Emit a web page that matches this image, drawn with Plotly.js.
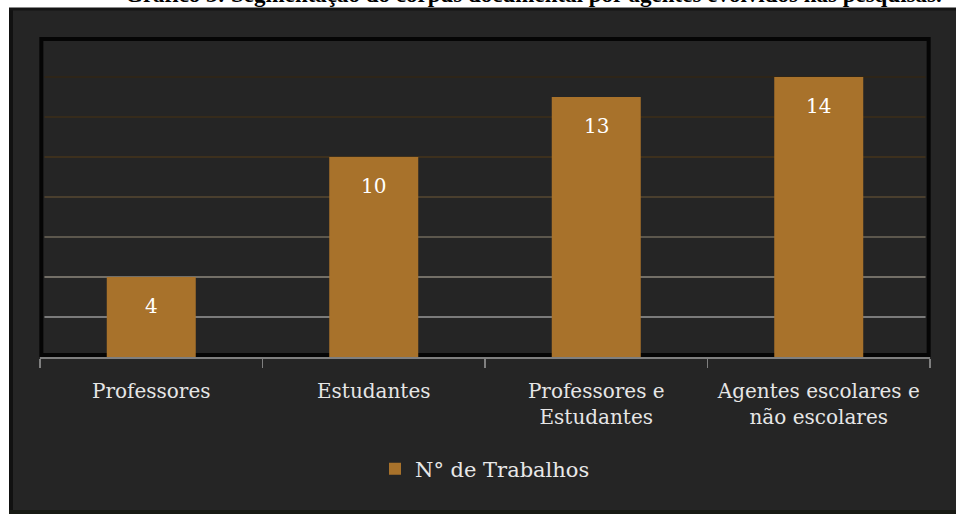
<!DOCTYPE html>
<html>
<head>
<meta charset="utf-8">
<script src="https://cdn.plot.ly/plotly-3.0.1.min.js"></script>
<style>html,body{margin:0;padding:0;background:#fff;}#chart{width:956px;height:514px;}</style>
</head>
<body>
<div id="chart"></div>
<script>
const categories = ["Professores", "Estudantes", "Professores e<br>Estudantes", "Agentes escolares e<br>não escolares"];
const values = [4, 10, 13, 14];
const seriesName = "N° de Trabalhos";
const chartTitle = "Gráfico 3: Segmentação do corpus documental por agentes evolvidos nas pesquisas.";
const gridVals = [2, 4, 6, 8, 10, 12, 14];
const gridColors = ["#7b7b7b", "#736f67", "#5c574d", "#4a3f2e", "#3d301d", "#362b1b", "#2e2518"];

const serif = "DejaVu Serif";
const barColor = "#a8722b";

const traces = [{
  type: "bar",
  x: categories,
  y: values,
  name: seriesName,
  marker: {color: barColor},
  width: 0.4,
  hoverinfo: "none"
}];

const layout = {
  width: 956, height: 514,
  margin: {l: 40, r: 26, t: 37, b: 157},
  paper_bgcolor: "#252525",
  plot_bgcolor: "rgba(0,0,0,0)",
  showlegend: true,
  legend: {
    orientation: "h", x: 0.5, xanchor: "center", y: -0.35, yanchor: "middle",
    font: {family: serif, size: 21, color: "#e8e8e8"},
    bgcolor: "rgba(0,0,0,0)"
  },
  xaxis: {
    type: "category",
    showline: true, linecolor: "#7f7f7f", linewidth: 1.5,
    ticks: "outside", tickson: "boundaries", ticklen: 9, tickcolor: "#7f7f7f", tickwidth: 1.5,
    ticklabelstandoff: 15, tickangle: 0,
    tickfont: {family: serif, size: 20, color: "#e6e6e6"},
    showgrid: false, zeroline: false, fixedrange: true
  },
  yaxis: {
    range: [0, 16], showticklabels: false, ticks: "", showgrid: false,
    zeroline: false, showline: false, fixedrange: true
  },
  annotations: [],
  shapes: [
    // white page around the dark panel
    {type: "rect", xref: "paper", yref: "paper", x0: -0.06, x1: (9 - 40) / 890, y0: -0.6, y1: 1.2, fillcolor: "#ffffff", line: {width: 0}, layer: "below"},
    {type: "rect", xref: "paper", yref: "paper", x0: -0.06, x1: 1.06, y0: (357 - 8) / 320, y1: 1.2, fillcolor: "#ffffff", line: {width: 0}, layer: "below"},
    // panel edges
    {type: "line", xref: "paper", yref: "paper", x0: (11 - 40) / 890, x1: (11 - 40) / 890, y0: (357 - 510) / 320, y1: (357 - 9) / 320, line: {color: "#111111", width: 4}, layer: "below"},
    {type: "line", xref: "paper", yref: "paper", x0: (9 - 40) / 890, x1: 1.06, y0: (357 - 9) / 320, y1: (357 - 9) / 320, line: {color: "#151515", width: 3}, layer: "below"},
    {type: "rect", xref: "paper", yref: "paper", x0: (9 - 40) / 890, x1: 1.06, y0: -0.6, y1: (357 - 510) / 320, fillcolor: "#181a14", line: {width: 0}, layer: "below"},
    // inner plot frame
    {type: "rect", xref: "paper", yref: "paper", x0: 0.0015, x1: 0.9985, y0: 0.006, y1: 0.994, line: {color: "#050505", width: 4}, fillcolor: "rgba(0,0,0,0)", layer: "below"}
  ]
};

// gridlines with graded colours, placed on the y scale
gridVals.forEach(function (v, i) {
  layout.shapes.push({
    type: "line", xref: "paper", yref: "y", x0: 0.005, x1: 0.995, y0: v, y1: v,
    line: {color: gridColors[i], width: 2}, layer: "between"
  });
});

// value labels inside the bars
categories.forEach(function (c, i) {
  layout.annotations.push({
    x: c, y: values[i], xref: "x", yref: "y",
    text: String(values[i]), showarrow: false,
    yanchor: "middle", yshift: -29,
    font: {family: serif, size: 20, color: "#ffffff"}
  });
});

// title (cut at the top edge, as in the source image)
layout.annotations.push({
  x: (533 - 40) / 890, y: (357 - 9) / 320, xref: "paper", yref: "paper",
  xanchor: "center", yanchor: "bottom", showarrow: false,
  text: "<b>" + chartTitle + "</b>",
  font: {family: "Liberation Serif", size: 23, color: "#000000"}
});

Plotly.newPlot("chart", traces, layout, {displayModeBar: false, staticPlot: true});
</script>
</body>
</html>
